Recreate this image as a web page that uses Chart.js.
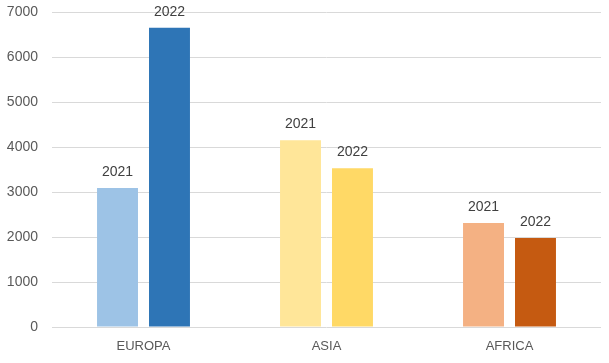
<!DOCTYPE html>
<html>
<head>
<meta charset="utf-8">
<script src="https://cdn.jsdelivr.net/npm/chart.js@4"></script>
<style>
  html, body { margin: 0; padding: 0; background: #fff; }
  #wrap { width: 609px; height: 363px; }
</style>
</head>
<body>
<div id="wrap"><canvas id="chart"></canvas></div>
<script>
const regions = ['EUROPA', 'ASIA', 'AFRICA'];
const years = ['2021', '2022'];
const values2021 = [3090, 4150, 2310];
const values2022 = [6650, 3530, 1980];
const yTicks = [0, 1000, 2000, 3000, 4000, 5000, 6000, 7000];

const colors2021 = ['#9DC3E6', '#FFE699', '#F4B183'];
const colors2022 = ['#2E75B6', '#FFD966', '#C55A11'];

const FONT = "'Liberation Sans', Arial, sans-serif";

// draws the series name above every bar
const barLabels = {
  id: 'barLabels',
  afterDatasetsDraw(chart) {
    const ctx = chart.ctx;
    ctx.save();
    ctx.font = '14px ' + FONT;
    ctx.fillStyle = '#404040';
    ctx.textAlign = 'center';
    ctx.textBaseline = 'bottom';
    chart.data.datasets.forEach((ds, i) => {
      chart.getDatasetMeta(i).data.forEach(bar => {
        ctx.fillText(ds.label, bar.x, bar.y - 9);
      });
    });
    ctx.restore();
  },
};

new Chart(document.getElementById('chart'), {
  type: 'bar',
  data: {
    labels: regions,
    datasets: [
      {
        label: years[0],
        data: values2021,
        backgroundColor: colors2021,
        categoryPercentage: 0.568,
        barPercentage: 0.788,
      },
      {
        label: years[1],
        data: values2022,
        backgroundColor: colors2022,
        categoryPercentage: 0.568,
        barPercentage: 0.788,
      },
    ],
  },
  options: {
    responsive: true,
    maintainAspectRatio: false,
    animation: false,
    layout: { padding: { top: 12, right: 8, left: 0, bottom: 0 } },
    plugins: {
      legend: { display: false },
      tooltip: { enabled: false },
    },
    scales: {
      y: {
        min: 0,
        max: 7000,
        afterBuildTicks: scale => { scale.ticks = yTicks.map(v => ({ value: v })); },
        afterFit: scale => { scale.width = 52; scale.paddingTop = 0; scale.paddingBottom = 0; },
        ticks: {
          color: '#595959',
          font: { family: FONT, size: 14, lineHeight: 0.5 },
          padding: 14,
          callback: v => String(v),
        },
        grid: { color: '#D9D9D9', drawTicks: false },
        border: { display: false },
      },
      x: {
        afterFit: scale => { scale.height = 36; },
        ticks: {
          color: '#595959',
          font: { family: FONT, size: 13 },
          padding: 12,
        },
        grid: { display: false, drawTicks: false },
        border: { display: false },
      },
    },
  },
  plugins: [barLabels],
});
</script>
</body>
</html>
